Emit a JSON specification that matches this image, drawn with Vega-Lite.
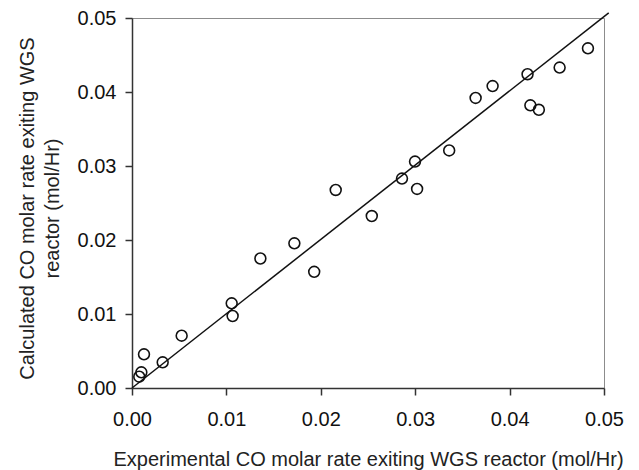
{
  "$schema": "https://vega.github.io/schema/vega-lite/v6.json",
  "autosize": "none",
  "width": 472,
  "height": 370,
  "padding": {"left": 132, "top": 18, "right": 35, "bottom": 82},
  "background": "white",
  "datasets": {
    "points": [
      {"experimental": 0.00077, "calculated": 0.00153},
      {"experimental": 0.00099, "calculated": 0.00212},
      {"experimental": 0.00127, "calculated": 0.00455},
      {"experimental": 0.00325, "calculated": 0.00347},
      {"experimental": 0.00526, "calculated": 0.00707},
      {"experimental": 0.01056, "calculated": 0.01144},
      {"experimental": 0.01066, "calculated": 0.00973},
      {"experimental": 0.0136, "calculated": 0.0175},
      {"experimental": 0.0172, "calculated": 0.01955},
      {"experimental": 0.0193, "calculated": 0.0157},
      {"experimental": 0.02158, "calculated": 0.02676},
      {"experimental": 0.0254, "calculated": 0.02324},
      {"experimental": 0.0286, "calculated": 0.0283},
      {"experimental": 0.02998, "calculated": 0.0306},
      {"experimental": 0.0302, "calculated": 0.0269},
      {"experimental": 0.0336, "calculated": 0.0321},
      {"experimental": 0.0364, "calculated": 0.0392},
      {"experimental": 0.0382, "calculated": 0.0408},
      {"experimental": 0.0419, "calculated": 0.0424},
      {"experimental": 0.0422, "calculated": 0.0382},
      {"experimental": 0.0431, "calculated": 0.0376},
      {"experimental": 0.0453, "calculated": 0.0433},
      {"experimental": 0.0483, "calculated": 0.0459}
    ],
    "fit": [
      {"experimental": 0, "calculated": 0},
      {"experimental": 0.0505, "calculated": 0.0507}
    ]
  },
  "config": {
    "font": "Liberation Sans",
    "view": {"stroke": "#8c8c8c", "strokeWidth": 1},
    "axis": {
      "grid": false,
      "domainColor": "#333333",
      "domainWidth": 1.5,
      "tickColor": "#333333",
      "tickWidth": 1.5,
      "tickSize": 7,
      "labelFont": "Liberation Sans",
      "labelFontSize": 20,
      "labelColor": "#111111",
      "titleFont": "Liberation Sans",
      "titleFontSize": 20,
      "titleFontWeight": "normal",
      "titleColor": "#222222"
    }
  },
  "encoding": {
    "x": {
      "field": "experimental",
      "type": "quantitative",
      "scale": {"domain": [0, 0.05], "nice": false, "zero": false},
      "axis": {
        "title": "Experimental CO molar rate exiting WGS reactor (mol/Hr)",
        "format": ".2f",
        "values": [0, 0.01, 0.02, 0.03, 0.04, 0.05],
        "labelPadding": 14,
        "labelFlush": false,
        "labelOverlap": false,
        "titleBaseline": "alphabetic",
        "titleY": 77
      }
    },
    "y": {
      "field": "calculated",
      "type": "quantitative",
      "scale": {"domain": [0, 0.05], "nice": false, "zero": false},
      "axis": {
        "title": ["Calculated CO molar rate exiting WGS", "reactor (mol/Hr)"],
        "format": ".2f",
        "values": [0, 0.01, 0.02, 0.03, 0.04, 0.05],
        "labelPadding": 9,
        "labelFlush": false,
        "labelOverlap": false,
        "titleBaseline": "alphabetic",
        "titleLineHeight": 25,
        "titleX": -99,
        "titleY": 190
      }
    }
  },
  "layer": [
    {
      "data": {"name": "fit"},
      "mark": {"type": "line", "color": "#111111", "strokeWidth": 1.5, "clip": false}
    },
    {
      "data": {"name": "points"},
      "mark": {"type": "point", "shape": "circle", "filled": false, "color": "#111111", "strokeWidth": 1.6, "size": 118, "opacity": 1}
    }
  ]
}
